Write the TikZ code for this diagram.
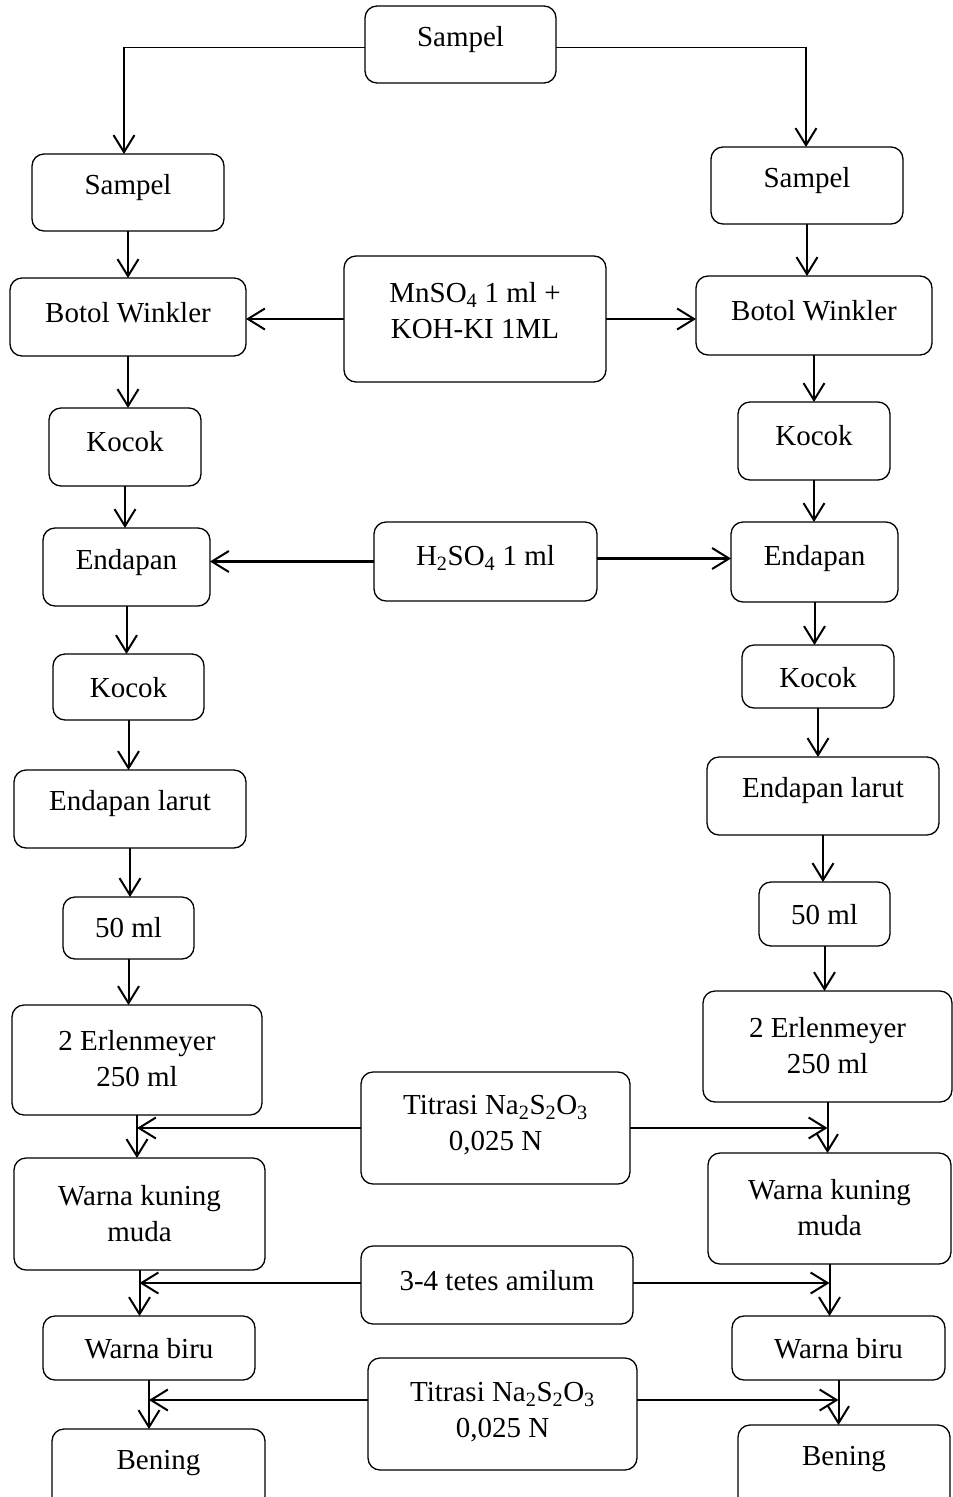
\documentclass[tikz,border=0pt]{standalone}
\usepackage{fontspec}
\setmainfont{Liberation Serif}
\usetikzlibrary{arrows.meta}
\tikzset{
  box/.style={draw, line width=1.3pt, rounded corners=12pt, inner sep=0pt, outer sep=0pt},
  txt/.style={inner sep=0pt, align=center, font=\fontsize{29}{36}\selectfont},
  tip/.style={-{Straight Barb[length=17pt,width=21pt,line width=2pt]}},
  varr/.style={tip, line width=2pt},
  harr/.style={tip, line width=2.7pt},
  thinline/.style={line width=1.2pt}
}
\newcommand\bx[7]{%
  \node[box, minimum width={(#4-#2)*1pt}, minimum height={(#5-#3)*1pt}] (#1) at ({(#2+#4)/2*1pt},{-(#3+#5)/2*1pt}) {};
  \node[txt] (#1t) at ({(#2+#4)/2*1pt},{-#6*1pt}) {#7};
}
\begin{document}
\begin{tikzpicture}
\useasboundingbox (0,0) rectangle (953pt,-1497pt);
\clip (0,0) rectangle (953pt,-1497pt);
% top
\bx{top}{365}{6}{556}{83}{40}{Sampel}
% left column
\bx{sL}{32}{154}{224}{231}{188}{Sampel}
\bx{bL}{10}{278}{246}{356}{313}{Botol Winkler}
\bx{kL}{49}{408}{201}{486}{442}{Kocok}
\bx{eL}{43}{528}{210}{606}{563}{Endapan}
\bx{k2L}{53}{654}{204}{720}{688}{Kocok}
\bx{elL}{14}{770}{246}{848}{804}{Endapan larut}
\bx{mL}{63}{897}{194}{959}{928}{50 ml}
\bx{erL}{12}{1005}{262}{1115}{1059}{2 Erlenmeyer\\250 ml}
\bx{wkL}{14}{1158}{265}{1270}{1214}{Warna kuning\\muda}
\bx{wbL}{43}{1316}{255}{1380}{1349}{Warna biru}
\bx{bnL}{52}{1429}{265}{1540}{1463}{Bening}
% right column
\bx{sR}{711}{147}{903}{224}{181}{Sampel}
\bx{bR}{696}{276}{932}{355}{311}{Botol Winkler}
\bx{kR}{738}{402}{890}{480}{436}{Kocok}
\bx{eR}{731}{522}{898}{602}{559}{Endapan}
\bx{k2R}{742}{645}{894}{708}{678}{Kocok}
\bx{elR}{707}{757}{939}{835}{791}{Endapan larut}
\bx{mR}{759}{882}{890}{946}{915}{50 ml}
\bx{erR}{703}{991}{952}{1102}{1046}{2 Erlenmeyer\\250 ml}
\bx{wkR}{708}{1153}{951}{1264}{1208}{Warna kuning\\muda}
\bx{wbR}{732}{1316}{945}{1380}{1349}{Warna biru}
\bx{bnR}{738}{1425}{950}{1540}{1459}{Bening}
% middle
\bx{mn}{344}{256}{606}{382}{311}{MnSO\textsubscript{4} 1 ml +\\KOH-KI 1ML}
\bx{hs}{374}{522}{597}{601}{558}{H\textsubscript{2}SO\textsubscript{4} 1 ml}
\bx{t1}{361}{1072}{630}{1184}{1125}{Titrasi Na\textsubscript{2}S\textsubscript{2}O\textsubscript{3}\\0,025 N}
\bx{am}{361}{1246}{633}{1324}{1281}{3-4 tetes amilum}
\bx{t2}{368}{1358}{637}{1470}{1412}{Titrasi Na\textsubscript{2}S\textsubscript{2}O\textsubscript{3}\\0,025 N}
% top split
\coordinate (cL) at ([xshift=-4pt,yshift=46pt]sL.north);
\coordinate (cR) at ([xshift=-1pt,yshift=47pt]sR.north);
\draw[thinline] ([yshift=-3pt]top.west) -| (cL);
\draw[thinline] ([yshift=-3pt]top.east) -| (cR);
\draw[varr] (cL) -- (cL |- sL.north);
\draw[varr] (cR) -- (cR |- sR.north);
% left vertical arrows
\foreach \a/\b in {sL/bL,bL/kL,kL/eL,eL/k2L,k2L/elL,elL/mL,mL/erL,erL/wkL,wkL/wbL,wbL/bnL}
  \draw[varr] (\a.south) -- (\a.south |- \b.north);
% right vertical arrows
\foreach \a/\b in {sR/bR,bR/kR,kR/eR,eR/k2R,k2R/elR,elR/mR,mR/erR,erR/wkR,wkR/wbR,wbR/bnR}
  \draw[varr] (\a.south) -- (\a.south |- \b.north);
% horizontal arrows
\draw[harr] (mn.west) -- (mn.west -| bL.east);
\draw[harr] (mn.east) -- (mn.east -| bR.west);
\draw[harr] (hs.west) -- (hs.west -| eL.east);
\draw[harr] ([yshift=3pt]hs.east) -- ([yshift=3pt]hs.east -| eR.west);
\draw[harr] (t1.west) -- (t1.west -| erL.south);
\draw[harr] (t1.east) -- (t1.east -| erR.south);
\draw[harr] ([yshift=2pt]am.west) -- ([yshift=2pt]am.west -| wkL.south);
\draw[harr] ([yshift=2pt]am.east) -- ([yshift=2pt]am.east -| wkR.south);
\draw[harr] ([yshift=14pt]t2.west) -- ([yshift=14pt]t2.west -| wbL.south);
\draw[harr] ([yshift=14pt]t2.east) -- ([yshift=14pt]t2.east -| wbR.south);
\end{tikzpicture}
\end{document}
